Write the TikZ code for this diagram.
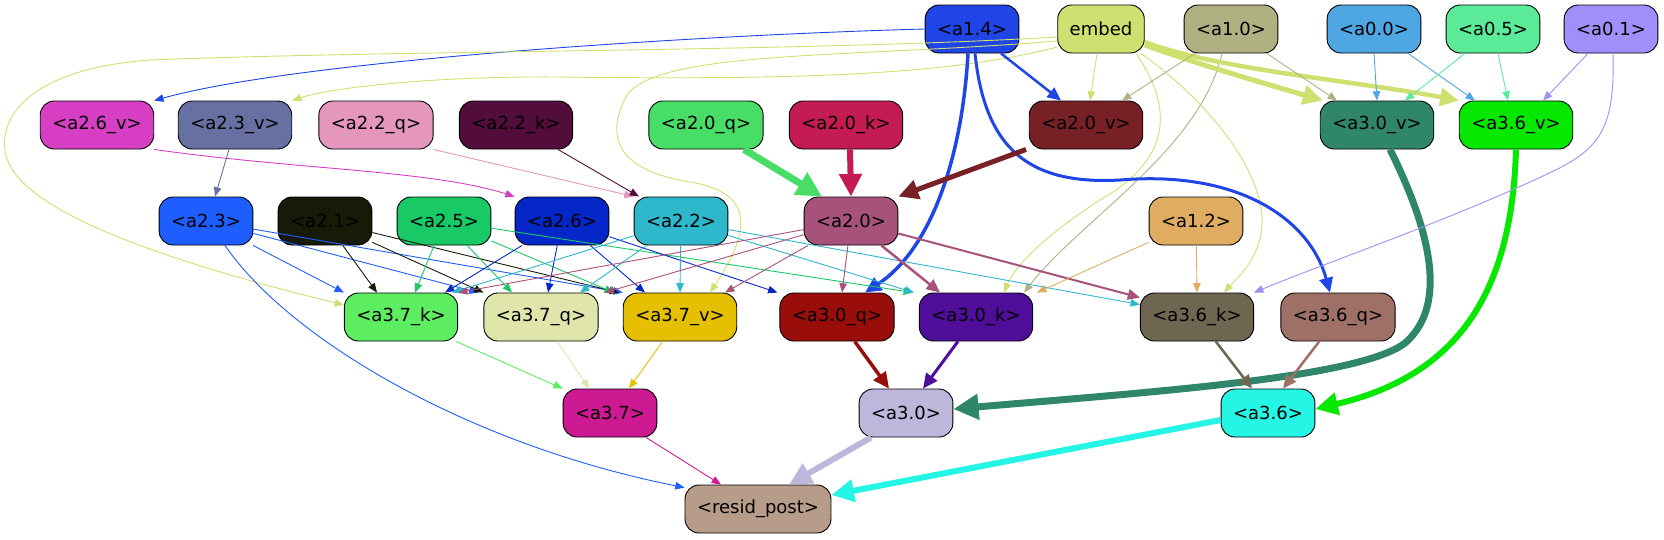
\documentclass[tikz,border=0pt]{standalone}
\usepackage{fontspec}
\setmainfont{DejaVu Sans}
\usetikzlibrary{arrows.meta}
\definecolor{cA14}{HTML}{1F45E6}
\definecolor{cEmb}{HTML}{CFE070}
\definecolor{cA10}{HTML}{B0B183}
\definecolor{cA00}{HTML}{4EA6E3}
\definecolor{cA05}{HTML}{5AEA98}
\definecolor{cA01}{HTML}{A08EF9}
\definecolor{cA26v}{HTML}{D63EC3}
\definecolor{cA23v}{HTML}{6870A3}
\definecolor{cA22q}{HTML}{E496BC}
\definecolor{cA22k}{HTML}{520D3B}
\definecolor{cA20q}{HTML}{48DD66}
\definecolor{cA20k}{HTML}{C41B53}
\definecolor{cA20v}{HTML}{772126}
\definecolor{cA30v}{HTML}{30866B}
\definecolor{cA36v}{HTML}{07E800}
\definecolor{cA23}{HTML}{1F5EFE}
\definecolor{cA21}{HTML}{181A08}
\definecolor{cA25}{HTML}{18C966}
\definecolor{cA26}{HTML}{0627C7}
\definecolor{cA22}{HTML}{2FB7CC}
\definecolor{cA20}{HTML}{A7527B}
\definecolor{cA12}{HTML}{E0AC61}
\definecolor{cA37k}{HTML}{5DED61}
\definecolor{cA37q}{HTML}{E0E5AB}
\definecolor{cA37v}{HTML}{E5C000}
\definecolor{cA30q}{HTML}{990E0A}
\definecolor{cA30k}{HTML}{4F0E9A}
\definecolor{cA36k}{HTML}{6E6651}
\definecolor{cA36q}{HTML}{9E7066}
\definecolor{cA37}{HTML}{CD1A92}
\definecolor{cA30}{HTML}{BFB6DB}
\definecolor{cA36}{HTML}{25F5E5}
\definecolor{cRes}{HTML}{B89C8A}
\tikzset{
  box/.style={draw=black, line width=0.9pt, rounded corners=14pt, minimum height=48pt,
    inner xsep=12pt, inner ysep=0pt, text=black, font=\fontsize{18pt}{20pt}\selectfont},
  ed/.style={line width=#1pt, -{Triangle[length=7pt 2.6,width=5pt 2.8]}},
  ed/.default=0.9
}
\begin{document}
\begin{tikzpicture}[x=1pt,y=-1pt]
\useasboundingbox (0,0) rectangle (1664,539);
% row 1
\node[box,fill=cA14] (a14) at (972,29) {<a1.4>};
\node[box,fill=cEmb] (embed) at (1101,29) {embed};
\node[box,fill=cA10] (a10) at (1231,29) {<a1.0>};
\node[box,fill=cA00] (a00) at (1374,29) {<a0.0>};
\node[box,fill=cA05] (a05) at (1493,29) {<a0.5>};
\node[box,fill=cA01] (a01) at (1611,29) {<a0.1>};
% row 2
\node[box,fill=cA26v] (a26v) at (97,125) {<a2.6\_v>};
\node[box,fill=cA23v] (a23v) at (235,125) {<a2.3\_v>};
\node[box,fill=cA22q] (a22q) at (376,125) {<a2.2\_q>};
\node[box,fill=cA22k] (a22k) at (516,125) {<a2.2\_k>};
\node[box,fill=cA20q] (a20q) at (706,125) {<a2.0\_q>};
\node[box,fill=cA20k] (a20k) at (846,125) {<a2.0\_k>};
\node[box,fill=cA20v] (a20v) at (1086,125) {<a2.0\_v>};
\node[box,fill=cA30v] (a30v) at (1377,125) {<a3.0\_v>};
\node[box,fill=cA36v] (a36v) at (1516,125) {<a3.6\_v>};
% row 3
\node[box,fill=cA23] (a23) at (206,221) {<a2.3>};
\node[box,fill=cA21] (a21) at (325,221) {<a2.1>};
\node[box,fill=cA25] (a25) at (444,221) {<a2.5>};
\node[box,fill=cA26] (a26) at (562,221) {<a2.6>};
\node[box,fill=cA22] (a22) at (681,221) {<a2.2>};
\node[box,fill=cA20] (a20) at (851,221) {<a2.0>};
\node[box,fill=cA12] (a12) at (1196,221) {<a1.2>};
% row 4
\node[box,fill=cA37k] (a37k) at (401,317) {<a3.7\_k>};
\node[box,fill=cA37q] (a37q) at (541,317) {<a3.7\_q>};
\node[box,fill=cA37v] (a37v) at (680,317) {<a3.7\_v>};
\node[box,fill=cA30q] (a30q) at (837,317) {<a3.0\_q>};
\node[box,fill=cA30k] (a30k) at (976,317) {<a3.0\_k>};
\node[box,fill=cA36k] (a36k) at (1197,317) {<a3.6\_k>};
\node[box,fill=cA36q] (a36q) at (1338,317) {<a3.6\_q>};
% row 5
\node[box,fill=cA37] (a37) at (610,413) {<a3.7>};
\node[box,fill=cA30] (a30) at (906,413) {<a3.0>};
\node[box,fill=cA36] (a36) at (1268,413) {<a3.6>};
\node[box,fill=cRes] (resid) at (758,509) {<resid\_post>};

% ---- long curved edges
\draw[ed,cA14] (a14.west) .. controls (700,35) and (300,60) .. (a26v.north east);
\draw[ed,cEmb] ([yshift=-18pt]embed.west) .. controls (950,75) and (800,80) .. (560,77)
   .. controls (430,76) and (330,88) .. (a23v.north east);
\draw[ed,cEmb] ([yshift=-8pt]embed.west) .. controls (800,52) and (400,50) .. (150,60)
   .. controls (40,68) and (0,110) .. (5,150) .. controls (10,200) and (120,250) .. ([yshift=12pt]a37k.west);
\draw[ed,cEmb] ([yshift=-12pt]embed.west) .. controls (850,58) and (660,50) .. (627,95)
   .. controls (605,135) and (615,170) .. (690,182) .. controls (750,192) and (755,225) .. ([xshift=30pt]a37v.north);
\draw[ed,cEmb] ([xshift=35pt]embed.south) .. controls (1175,110) and (1170,160) .. (1100,200)
   .. controls (1050,232) and (1015,265) .. ([xshift=28pt]a30k.north);
\draw[ed,cEmb] ([xshift=40pt]embed.south) .. controls (1220,110) and (1265,180) .. (1262,225)
   .. controls (1260,260) and (1235,280) .. ([xshift=27pt]a36k.north);
\draw[ed,cA10] ([xshift=-9pt]a10.south) .. controls (1200,150) and (1080,220) .. ([xshift=48pt]a30k.north);
\draw[ed=3.5,cA14] ([xshift=-4pt]a14.south) .. controls (962,160) and (930,250) .. ([xshift=28pt]a30q.north);
\draw[ed=3,cA14] ([xshift=3pt]a14.south) .. controls (985,150) and (1030,185) .. (1120,180)
   .. controls (1240,170) and (1310,220) .. ([xshift=-8pt]a36q.north);
\draw[ed=7,cA30v] ([xshift=13pt]a30v.south) .. controls (1420,210) and (1455,300) .. (1405,343)
   .. controls (1360,378) and (1150,392) .. ([yshift=4pt]a30.east);
\draw[ed=6,cA36v] (a36v.south) .. controls (1512,290) and (1460,375) .. ([yshift=4pt]a36.east);
\draw[ed,cA01] ([xshift=2pt]a01.south) .. controls (1615,130) and (1600,150) .. (1545,175)
   .. controls (1450,220) and (1320,265) .. (a36k.north east);
\draw[ed,cA26v] (a26v.south east) .. controls (300,170) and (430,170) .. (a26.north west);
\draw[ed,cA23] ([xshift=19pt]a23.south) .. controls (290,340) and (470,445) .. ([yshift=-3pt]resid.north west);
\draw[ed=5,cEmb] ([yshift=-16pt]embed.east) .. controls (1200,65) and (1270,85) .. ([xshift=3pt]a30v.north west);
\draw[ed=4.5,cEmb] ([yshift=-13pt]embed.east) .. controls (1220,70) and (1350,80) .. (a36v.north west);

% ---- row 1 -> row 2
\draw[ed=2.5,cA14] ([xshift=29pt]a14.south) -- ([xshift=-25pt]a20v.north);
\draw[ed,cEmb] ([xshift=-4pt]embed.south) -- ([xshift=4pt]a20v.north);
\draw[ed,cA10] ([xshift=-36pt]a10.south) -- ([xshift=36pt]a20v.north);
\draw[ed,cA10] ([xshift=36pt]a10.south) -- ([xshift=-40pt]a30v.north);
\draw[ed,cA00] (a00.south) -- (a30v.north);
\draw[ed,cA00] ([xshift=34pt]a00.south) -- ([xshift=-41pt]a36v.north);
\draw[ed,cA05] ([xshift=-28pt]a05.south) -- ([xshift=28pt]a30v.north);
\draw[ed,cA05] ([xshift=5pt]a05.south) -- ([xshift=-8pt]a36v.north);
\draw[ed,cA01] ([xshift=-23pt]a01.south) -- ([xshift=27pt]a36v.north);

% ---- row 2 -> row 3
\draw[ed,cA23v] ([xshift=-6pt]a23v.south) -- ([xshift=9pt]a23.north);
\draw[ed,cA22q] (a22q.south east) -- (a22.north west);
\draw[ed,cA22k] ([xshift=42pt]a22k.south) -- ([xshift=-42pt]a22.north);
\draw[ed=7,cA20q] ([xshift=38pt]a20q.south) -- ([xshift=-29pt]a20.north);
\draw[ed=6,cA20k] ([xshift=4pt]a20k.south) -- (a20.north);
\draw[ed=5,cA20v] ([xshift=-60pt]a20v.south) -- (a20.north east);

% ---- row 3 -> row 4
\draw[ed,cA23] (a23) -- (a37k.north west);
\draw[ed,cA23] (a23) -- ([xshift=-5pt]a37q.north west);
\draw[ed,cA23] (a23) -- (a37v.north west);
\draw[ed,cA21] (a21) -- ([xshift=-24pt]a37k.north);
\draw[ed,cA21] (a21) -- (a37q.north west);
\draw[ed,cA21] (a21) -- ([xshift=-4pt]a37v.north west);
\draw[ed,cA25] (a25) -- ([xshift=14pt]a37k.north);
\draw[ed,cA25] (a25) -- ([xshift=-29pt]a37q.north);
\draw[ed,cA25] (a25) -- ([xshift=-9pt]a37v.north west);
\draw[ed,cA25] (a25) -- ([xshift=-6pt]a30k.north west);
\draw[ed,cA26] (a26) -- ([xshift=44pt]a37k.north);
\draw[ed,cA26] (a26) -- ([xshift=7pt]a37q.north);
\draw[ed,cA26] (a26) -- ([xshift=-35pt]a37v.north);
\draw[ed,cA26] (a26) -- ([xshift=-2pt]a30q.north west);
\draw[ed,cA22] (a22) -- ([xshift=-6pt]a37k.north east);
\draw[ed,cA22] (a22) -- ([xshift=39pt]a37q.north);
\draw[ed,cA22] (a22) -- (a37v.north);
\draw[ed,cA22] (a22) -- ([xshift=-5pt]a30k.north west);
\draw[ed,cA22] (a22) -- ([yshift=-12pt]a36k.north west);
\draw[ed,cA20] (a20) -- (a37k.north east);
\draw[ed,cA20] (a20) -- ([xshift=6pt]a37q.north east);
\draw[ed,cA20] (a20) -- ([xshift=45pt]a37v.north);
\draw[ed,cA20] (a20) -- ([xshift=5pt]a30q.north);
\draw[ed=2.5,cA20] (a20) -- ([xshift=-36pt]a30k.north);
\draw[ed=2,cA20] (a20) -- ([yshift=-5pt]a36k.north west);
\draw[ed,cA12] (a12) -- ([xshift=4pt]a30k.north east);
\draw[ed,cA12] (a12) -- (a36k.north);

% ---- row 4 -> row 5
\draw[ed,cA37k] (a37k) -- (a37.north west);
\draw[ed,cA37q] (a37q) -- ([xshift=-21pt]a37.north);
\draw[ed,cA37v] (a37v) -- ([xshift=19pt]a37.north);
\draw[ed=3.5,cA30q] (a30q) -- ([xshift=-17pt]a30.north);
\draw[ed=3,cA30k] (a30k) -- ([xshift=17pt]a30.north);
\draw[ed=2.5,cA36k] (a36k) -- ([xshift=-16pt]a36.north);
\draw[ed=2.5,cA36q] (a36q) -- ([xshift=15pt]a36.north);

% ---- row 5 -> resid
\draw[ed,cA37] ([xshift=36pt]a37.south) -- ([xshift=-37pt]resid.north);
\draw[ed=6,cA30] ([xshift=-35pt]a30.south) -- ([xshift=31pt]resid.north);
\draw[ed=6,cA36] ([yshift=-7pt]a36.west) -- ([yshift=14pt]resid.east);
\end{tikzpicture}
\end{document}
